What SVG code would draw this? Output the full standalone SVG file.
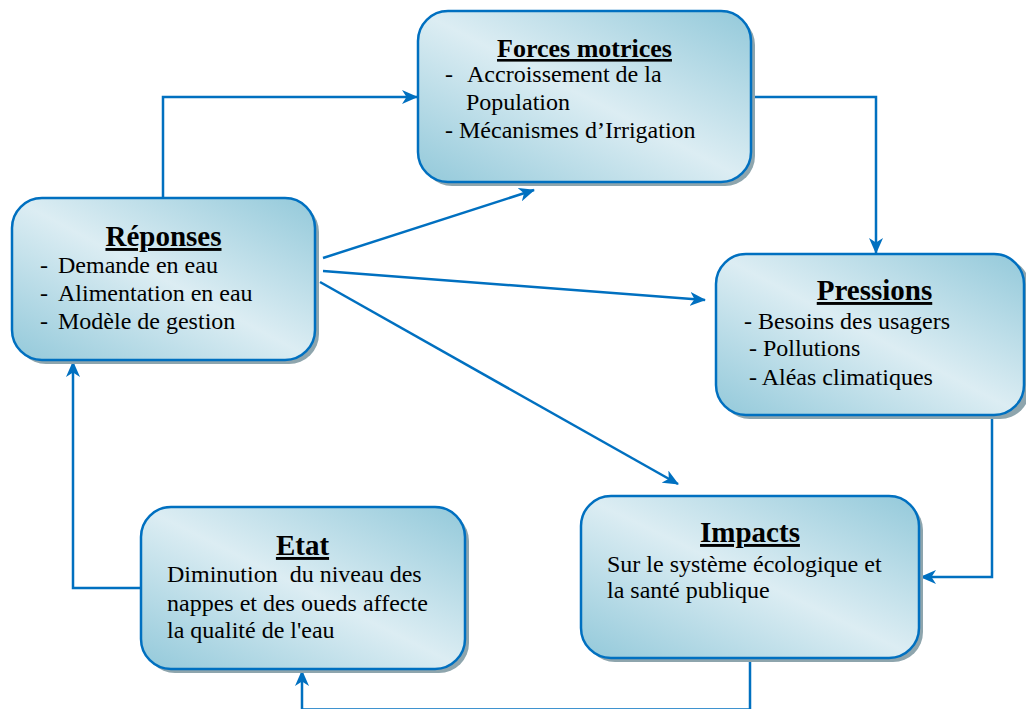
<svg xmlns="http://www.w3.org/2000/svg" width="1026" height="709" viewBox="0 0 1026 709">
<style>
.box{fill:url(#g);stroke:#0070c0;stroke-width:2.5}
.sh{fill:#8ea5ad}
.t{font-family:"Liberation Serif","Times New Roman",serif;font-weight:bold;font-size:29px;text-decoration:underline;text-anchor:middle;fill:#000}
.b{font-family:"Liberation Serif","Times New Roman",serif;font-size:24px;fill:#000;white-space:pre}
.c{fill:none;stroke:#0070c0;stroke-width:2.5;marker-end:url(#a)}
</style>
<defs>
<linearGradient id="g" x1="1" y1="0" x2="0" y2="1">
<stop offset="0" stop-color="#93c9da"/>
<stop offset="0.5" stop-color="#dcedf3"/>
<stop offset="1" stop-color="#93c9da"/>
</linearGradient>
<marker id="a" markerUnits="userSpaceOnUse" markerWidth="16" markerHeight="14" refX="15" refY="7" orient="auto">
<path d="M0,0 L16,7 L0,14 L4.5,7 Z" fill="#0070c0"/>
</marker>
</defs>
<rect width="1026" height="709" fill="#fff"/>
<g id="connectors">
<polyline class="c" points="163,198 163,97 417,97"/>
<polyline class="c" points="751,97 876,97 876,253"/>
<polyline class="c" points="992,415 992,577 921,577"/>
<polyline class="c" points="750,658 750,709.5 302,709.5 302,671"/>
<polyline class="c" points="141,588 73,588 73,362"/>
<line class="c" x1="323" y1="258" x2="534" y2="190"/>
<line class="c" x1="323" y1="271" x2="705" y2="300"/>
<line class="c" x1="320" y1="282" x2="678" y2="484"/>
</g>
<g id="forces">
<rect class="sh" x="422" y="15" width="333" height="171" rx="30"/>
<rect class="box" x="418" y="11" width="333" height="171" rx="30"/>
<text class="t" x="584.5" y="57" style="font-size:26px">Forces motrices</text>
<text class="b"><tspan x="445" y="82">-</tspan><tspan x="467" y="82">Accroissement de la</tspan><tspan x="466" y="110">Population</tspan><tspan x="445" y="138">- Mécanismes d’Irrigation</tspan></text>
</g>
<g id="reponses">
<rect class="sh" x="16" y="202" width="303" height="162" rx="30"/>
<rect class="box" x="12" y="198" width="303" height="162" rx="30"/>
<text class="t" x="163.5" y="246">Réponses</text>
<text class="b"><tspan x="40" y="273">-</tspan><tspan x="58" y="273">Demande en eau</tspan><tspan x="40" y="301">-</tspan><tspan x="58" y="301">Alimentation en eau</tspan><tspan x="40" y="329">-</tspan><tspan x="58" y="329">Modèle de gestion</tspan></text>
</g>
<g id="pressions">
<rect class="sh" x="720" y="258" width="310" height="161" rx="30"/>
<rect class="box" x="716" y="254" width="308" height="161" rx="30"/>
<text class="t" x="874.5" y="300">Pressions</text>
<text class="b"><tspan x="744" y="329">- Besoins des usagers</tspan><tspan x="749" y="356">- Pollutions</tspan><tspan x="749" y="385">- Aléas climatiques</tspan></text>
</g>
<g id="impacts">
<rect class="sh" x="585" y="500" width="338" height="162" rx="30"/>
<rect class="box" x="581" y="496" width="338" height="162" rx="30"/>
<text class="t" x="750" y="542">Impacts</text>
<text class="b"><tspan x="607" y="572">Sur le système écologique et</tspan><tspan x="607" y="598">la santé publique</tspan></text>
</g>
<g id="etat">
<rect class="sh" x="145" y="511" width="324" height="162" rx="30"/>
<rect class="box" x="141" y="507" width="324" height="162" rx="30"/>
<text class="t" x="302.5" y="555">Etat</text>
<text class="b"><tspan x="167" y="582">Diminution  du niveau des</tspan><tspan x="167" y="611">nappes et des oueds affecte</tspan><tspan x="167" y="638">la qualité de l'eau</tspan></text>
</g>
</svg>
